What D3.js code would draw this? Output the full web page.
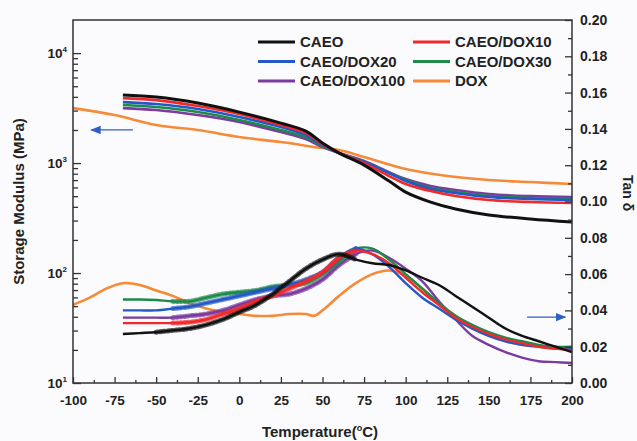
<!DOCTYPE html>
<html>
<head>
<meta charset="utf-8">
<title>DMA</title>
<script src="https://cdn.jsdelivr.net/npm/d3@7"></script>
<style>
  body { margin: 0; background: #fbfbfd; }
  text { font-family: "Liberation Sans", Arial, sans-serif; font-weight: bold; fill: #222; }
</style>
</head>
<body>
<script>
// series, in legend order
var names  = ["CAEO", "CAEO/DOX10", "CAEO/DOX20", "CAEO/DOX30", "CAEO/DOX100", "DOX"];
var colors = ["#111111", "#f2282a", "#2458c8", "#1d8a4a", "#7b3b9f", "#f68a36"];

// storage modulus (MPa)
var modT       = [-70, -50, -25, 0, 25, 40, 50, 60, 75, 90, 100, 115, 130, 150, 175, 200];
var modCAEO    = [4150, 3981, 3511, 2908, 2310, 1954, 1520, 1233, 959, 686, 545, 442, 382, 337, 310, 291];
var modDOX10   = [3898, 3739, 3298, 2789, 2215, 1874, 1488, 1233, 1000, 762, 645, 556, 501, 461, 442, 433];
var modDOX20   = [3585, 3439, 3097, 2619, 2124, 1797, 1457, 1233, 1021, 811, 686, 580, 534, 491, 471, 461];
var modDOX30   = [3368, 3230, 2908, 2460, 1995, 1723, 1427, 1233, 1021, 811, 701, 592, 545, 501, 481, 471];
var modDOX100  = [3162, 3033, 2731, 2359, 1913, 1653, 1398, 1233, 1043, 828, 715, 618, 568, 523, 501, 491];
var modDoxT    = [-100, -75, -50, -25, 0, 25, 50, 60, 75, 100, 125, 150, 175, 200];
var modDOX     = [3162, 2731, 2215, 1995, 1723, 1552, 1369, 1313, 1134, 882, 762, 701, 672, 645];

// tan delta
var tanT      = [-70, -60, -50, -40, -30, -20, -10, 0, 10, 20, 30, 40, 50, 60, 70, 80, 90, 100, 110, 120, 130, 140, 150, 160, 170, 180, 190, 200];
var tanCAEO   = [0.027, 0.0275, 0.028, 0.029, 0.030, 0.032, 0.035, 0.039, 0.043, 0.049, 0.056, 0.063, 0.068, 0.071, 0.068, 0.066, 0.065, 0.062, 0.058, 0.054, 0.048, 0.042, 0.036, 0.030, 0.026, 0.023, 0.020, 0.017];
var tanDOX10  = [0.033, 0.033, 0.033, 0.033, 0.0335, 0.035, 0.038, 0.041, 0.045, 0.048, 0.052, 0.056, 0.061, 0.069, 0.073, 0.071, 0.066, 0.058, 0.050, 0.043, 0.036, 0.031, 0.027, 0.024, 0.022, 0.020, 0.019, 0.018];
var tanDOX20  = [0.040, 0.040, 0.040, 0.041, 0.042, 0.044, 0.046, 0.048, 0.050, 0.052, 0.054, 0.057, 0.061, 0.069, 0.074, 0.071, 0.064, 0.055, 0.047, 0.041, 0.035, 0.030, 0.026, 0.023, 0.021, 0.020, 0.019, 0.019];
var tanDOX30  = [0.046, 0.046, 0.0457, 0.045, 0.045, 0.047, 0.049, 0.050, 0.051, 0.053, 0.054, 0.055, 0.060, 0.067, 0.074, 0.074, 0.068, 0.060, 0.052, 0.044, 0.037, 0.032, 0.028, 0.025, 0.023, 0.021, 0.020, 0.020];
var tanDOX100 = [0.036, 0.036, 0.036, 0.036, 0.037, 0.038, 0.040, 0.043, 0.046, 0.048, 0.049, 0.052, 0.057, 0.065, 0.071, 0.073, 0.069, 0.063, 0.056, 0.045, 0.035, 0.026, 0.021, 0.017, 0.014, 0.012, 0.0115, 0.011];
var tanDoxT   = [-100, -90, -80, -70, -60, -50, -40, -30, -20, -10, 0, 10, 20, 30, 40, 45, 50, 60, 70, 80, 90, 100, 110, 120, 130, 140, 150, 160, 170, 180, 190, 200];
var tanDOX    = [0.043, 0.047, 0.052, 0.055, 0.054, 0.051, 0.048, 0.044, 0.041, 0.039, 0.038, 0.037, 0.037, 0.038, 0.038, 0.037, 0.040, 0.048, 0.055, 0.060, 0.062, 0.059, 0.052, 0.044, 0.037, 0.031, 0.026, 0.023, 0.021, 0.020, 0.019, 0.019];

// scattered part of each tan curve (temperature range); DOX has none
var noisyFrom  = [-50, -40, -40, -40, -40, 999];
var noisyUntil = [70, 70, 70, 70, 70, -999];

var xTicks = d3.range(-100, 201, 25);
var modTicks = [10, 100, 1000, 10000];
var tanTicks = d3.range(0, 0.2001, 0.02);

var W = 637, H = 441;
var L = 73, R = 572, T = 20, B = 383;

var svg = d3.select("body").append("svg").attr("width", W).attr("height", H);

var x = d3.scaleLinear().domain([-100, 200]).range([L, R]);
var yMod = d3.scaleLog().domain([10, 20000]).range([B, T]);
var yTan = d3.scaleLinear().domain([0, 0.2]).range([B, T]);

var modSeries = [
  {t: modT, v: modCAEO}, {t: modT, v: modDOX10}, {t: modT, v: modDOX20},
  {t: modT, v: modDOX30}, {t: modT, v: modDOX100}, {t: modDoxT, v: modDOX}
];
var tanSeries = [
  {t: tanT, v: tanCAEO}, {t: tanT, v: tanDOX10}, {t: tanT, v: tanDOX20},
  {t: tanT, v: tanDOX30}, {t: tanT, v: tanDOX100}, {t: tanDoxT, v: tanDOX}
];

var lineMod = d3.line().x(function(d) { return x(d[0]); }).y(function(d) { return yMod(d[1]); })
  .curve(d3.curveCatmullRom.alpha(0.5));
var lineTan = d3.line().x(function(d) { return x(d[0]); }).y(function(d) { return yTan(d[1]); })
  .curve(d3.curveCatmullRom.alpha(0.5));

function pairs(s) { return s.t.map(function(t, i) { return [t, s.v[i]]; }); }

// draw back to front so CAEO sits on top
var order = [5, 4, 3, 2, 1, 0];

var g = svg.append("g");
order.forEach(function(i) {
  g.append("path").datum(pairs(modSeries[i]))
    .attr("d", lineMod).attr("fill", "none")
    .attr("stroke", colors[i]).attr("stroke-width", i == 0 ? 3 : 2.6);
});

order.forEach(function(i) {
  var p = pairs(tanSeries[i]);
  g.append("path").datum(p)
    .attr("d", lineTan).attr("fill", "none")
    .attr("stroke", colors[i]).attr("stroke-width", i == 5 ? 2.6 : 2.4);
  // scattered band for the noisy part
  var noisy = p.filter(function(d) { return d[0] >= noisyFrom[i] && d[0] <= noisyUntil[i]; });
  if (noisy.length > 1) {
    g.append("path").datum(noisy)
      .attr("d", lineTan).attr("fill", "none")
      .attr("stroke", colors[i]).attr("stroke-width", 5)
      .attr("stroke-dasharray", "1.2 2.6 2 1.8").attr("stroke-linecap", "round")
      .attr("opacity", 0.7);
  }
});

// frame
svg.append("rect").attr("x", L).attr("y", T).attr("width", R - L).attr("height", B - T)
  .attr("fill", "none").attr("stroke", "#333").attr("stroke-width", 1.5);

// axes
function styleAxis(size) {
  return function(sel) {
    sel.selectAll(".domain").remove();
    sel.selectAll("line").attr("stroke", "#333").attr("stroke-width", 1.3);
    sel.selectAll("text").attr("font-size", size).attr("fill", "#222");
  };
}

svg.append("g").attr("transform", "translate(0," + B + ")")
  .call(d3.axisBottom(x).tickValues(xTicks).tickSizeInner(-6).tickSizeOuter(0).tickPadding(12)
    .tickFormat(function(d) { return String(d); }))
  .call(styleAxis(13.5));
svg.append("g").attr("transform", "translate(0," + B + ")")
  .call(d3.axisBottom(x).tickValues(d3.range(-87.5, 200, 25)).tickSizeInner(-3).tickSizeOuter(0).tickFormat(""))
  .call(styleAxis(13));

var minorMod = [];
[10, 100, 1000].forEach(function(dec) { for (var k = 2; k <= 9; k++) minorMod.push(dec * k); });
svg.append("g").attr("transform", "translate(" + L + ",0)")
  .call(d3.axisLeft(yMod).tickValues(modTicks).tickSizeInner(-8).tickSizeOuter(0).tickFormat(""))
  .call(styleAxis(13));
svg.append("g").attr("transform", "translate(" + L + ",0)")
  .call(d3.axisLeft(yMod).tickValues(minorMod).tickSizeInner(-5).tickSizeOuter(0).tickFormat(""))
  .call(styleAxis(13));

var modLab = svg.append("g").selectAll("text").data(modTicks).enter().append("text")
  .attr("x", 67).attr("y", function(d) { return yMod(d); })
  .attr("dy", "0.38em").attr("text-anchor", "end").attr("font-size", 13.5);
modLab.append("tspan").text("10");
modLab.append("tspan").attr("font-size", 8).attr("dy", -6)
  .text(function(d) { return Math.round(Math.log10(d)); });

svg.append("g").attr("transform", "translate(" + R + ",0)")
  .call(d3.axisRight(yTan).tickValues(tanTicks).tickSizeInner(-7).tickSizeOuter(0).tickPadding(8).tickFormat(d3.format(".2f")))
  .call(styleAxis(14));
svg.append("g").attr("transform", "translate(" + R + ",0)")
  .call(d3.axisRight(yTan).tickValues(d3.range(0.01, 0.2, 0.02)).tickSizeInner(-4).tickSizeOuter(0).tickFormat(""))
  .call(styleAxis(14));

// titles
svg.append("text").attr("transform", "translate(24," + (T + B) / 2 + ") rotate(-90)")
  .attr("text-anchor", "middle").attr("font-size", 15).text("Storage Modulus (MPa)");
svg.append("text").attr("transform", "translate(623," + 193 + ") rotate(90)")
  .attr("text-anchor", "middle").attr("font-size", 14).text("Tan δ");
var xt = svg.append("text").attr("x", 320).attr("y", 437).attr("text-anchor", "middle").attr("font-size", 15);
xt.append("tspan").text("Temperature(");
xt.append("tspan").attr("font-size", 9).attr("dy", -6).text("o");
xt.append("tspan").attr("dy", 6).text("C)");

// arrows pointing to each axis
var arrowFrom = [[-64, 2000], [173, 0.0363]];
var arrowTo   = [[-89, 2000], [196, 0.0363]];
svg.append("defs").append("marker").attr("id", "head")
  .attr("viewBox", "0 0 10 10").attr("refX", 9).attr("refY", 5)
  .attr("markerWidth", 8).attr("markerHeight", 8).attr("orient", "auto")
  .append("path").attr("d", "M0,1L10,5L0,9Z").attr("fill", "#2f5fc4");
svg.append("line")
  .attr("x1", x(arrowFrom[0][0])).attr("y1", yMod(arrowFrom[0][1]))
  .attr("x2", x(arrowTo[0][0])).attr("y2", yMod(arrowTo[0][1]))
  .attr("stroke", "#2f5fc4").attr("stroke-width", 1.3).attr("marker-end", "url(#head)");
svg.append("line")
  .attr("x1", x(arrowFrom[1][0])).attr("y1", yTan(arrowFrom[1][1]))
  .attr("x2", x(arrowTo[1][0])).attr("y2", yTan(arrowTo[1][1]))
  .attr("stroke", "#2f5fc4").attr("stroke-width", 1.3).attr("marker-end", "url(#head)");

// legend
var leg = svg.append("g").selectAll("g").data(names).enter().append("g")
  .attr("transform", function(d, i) {
    return "translate(" + (i % 2 == 0 ? 258 : 413) + "," + (42 + Math.floor(i / 2) * 19.5) + ")";
  });
leg.append("line").attr("x1", 0).attr("x2", 37).attr("y1", 0).attr("y2", 0)
  .attr("stroke", function(d, i) { return colors[i]; }).attr("stroke-width", 3);
leg.append("text").attr("x", 42).attr("dy", "0.36em").attr("font-size", 15)
  .text(function(d) { return d; });
</script>
</body>
</html>
